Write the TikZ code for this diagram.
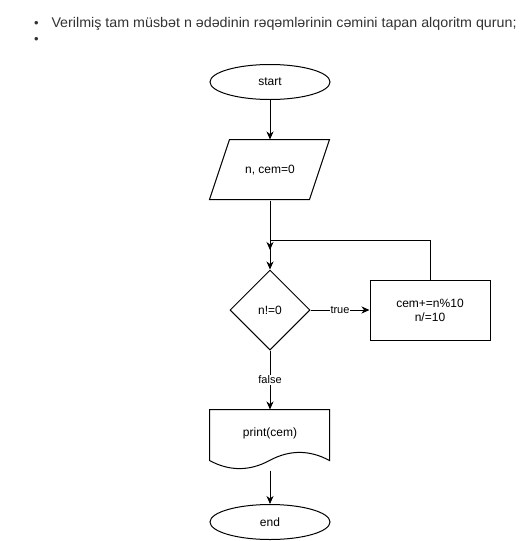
\documentclass[tikz,border=0pt]{standalone}
\usepackage{fontspec}
\setmainfont{Liberation Sans}
\newfontfamily\headfont[FakeStretch=1.02]{Liberation Sans}
\usetikzlibrary{shapes.geometric,arrows.meta,calc}
\definecolor{headtext}{HTML}{333333}
\begin{document}
\begin{tikzpicture}[x=1pt,y=-1pt,line width=1pt,
  every node/.style={font=\fontsize{12}{14}\selectfont},
  term/.style={ellipse,draw,minimum width=120pt,minimum height=35pt,inner sep=0pt},
  frame/.style={rectangle,draw=none,minimum width=120pt,minimum height=60pt,inner sep=0pt},
  procbox/.style={rectangle,draw,minimum width=120pt,minimum height=60pt,inner sep=0pt,align=center},
  decision/.style={diamond,draw,minimum width=80pt,minimum height=80pt,inner sep=0pt},
  arr/.style={-{Stealth[length=8pt,width=7pt,inset=2.5pt]}},
  lbl/.style={fill=white,inner sep=1pt,font=\fontsize{11}{13}\selectfont},
  headline/.style={anchor=base west,text=headtext,inner sep=0pt,font=\headfont\fontsize{14}{16}\selectfont},
  bullet/.style={anchor=base,text=headtext,inner sep=0pt,font=\fontsize{13}{15}\selectfont}]
  \useasboundingbox (0,0) rectangle (531,541);
  \fill[white] (0,0) rectangle (531,541);

  % heading list
  \node[bullet] (b1) at (36.5,27.5) {•};
  \node[headline] (h1) at (51,27) {Verilmiş tam müsbət n ədədinin rəqəmlərinin cəmini tapan alqoritm qurun;};
  \node[bullet] (b2) at (36.5,43.5) {•};

  % flowchart blocks
  \node[term] (start) at (270,82) {start};
  \node[frame] (inp) at (270,170) {n, cem=0};
  \draw[shift={(inp.north west)}] (20,0) -- (120,0) -- (100,60) -- (0,60) -- cycle;
  \node[decision] (cond) at (270,310) {n!=0};
  \node[procbox] (body) at (430,310) {cem+=n\%10\\n/=10};
  \node[frame,text depth=16pt] (doc) at (270,440) {print(cem)};
  \draw[shift={(doc.north west)}] (0,0) -- (120,0) -- (120,51)
    .. controls (100,40.2) and (80,40.2) .. (60,51)
    .. controls (40,61.8) and (20,61.8) .. (0,51) -- cycle;
  \node[term] (end) at (270,522) {end};

  % connectors
  \coordinate (merge) at (270,240);
  \coordinate (join) at (270,250);
  \draw[arr] (start.south) -- (inp.north);
  \draw[arr] (inp.south) -- (join);
  \draw[arr] (body.north) |- (merge) -- (cond.north);
  \draw[arr] (cond.east) -- node[lbl] {true} (body.west);
  \draw[arr] (cond.south) -- node[lbl] {false} (doc.north);
  \draw[arr] (doc.south) -- (end.north);
\end{tikzpicture}
\end{document}
